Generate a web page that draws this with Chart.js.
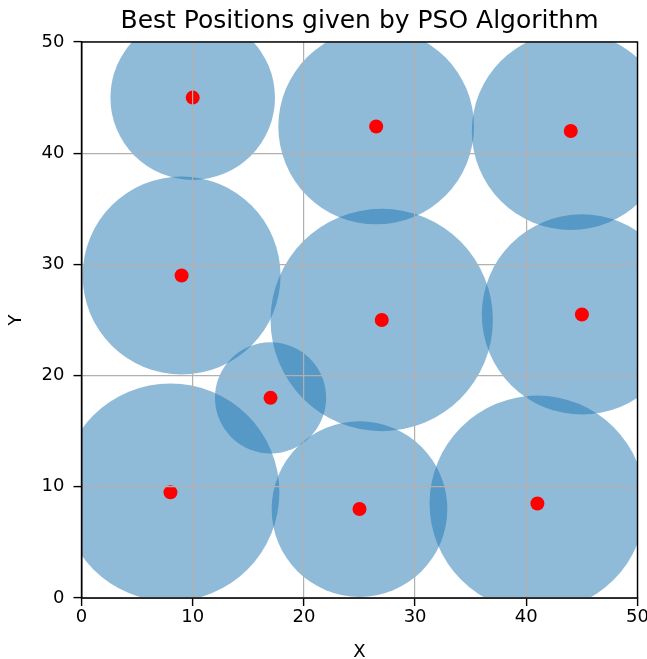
<!DOCTYPE html>
<html>
<head>
<meta charset="utf-8">
<title>Best Positions given by PSO Algorithm</title>
<script src="https://cdn.jsdelivr.net/npm/chart.js"></script>
<style>
  html, body { margin: 0; padding: 0; background: #fff; }
</style>
</head>
<body>
<canvas id="pso" width="647" height="659"></canvas>
<script>
// best positions found by the swarm, and the circle radius around each (data units)
const posX = [10, 26.5, 44, 9, 27, 45, 17, 8, 25, 41];
const posY = [45, 42.4, 42, 29, 25, 25.5, 18, 9.5, 8, 8.5];
const radii = [7.4, 8.8, 8.9, 8.9, 10, 9, 5, 9.8, 7.9, 9.7];
const axisTicks = [0, 10, 20, 30, 40, 50];

const FONT = "'DejaVu Sans', sans-serif";

const points = posX.map((x, i) => ({x: x, y: posY[i]}));
const circles = posX.map((x, i) => ({x: x, y: posY[i], size: radii[i]}));

// radius in data units -> pixels, through the x scale
const dataRadius = (ctx) => {
    const s = ctx.chart.scales.x;
    if (!s || !ctx.raw) return 0;
    return Math.abs(s.getPixelForValue(ctx.raw.size) - s.getPixelForValue(0));
};

const setTicks = (scale) => {
    scale.ticks = axisTicks.map(v => ({value: v}));
};

// matplotlib style box round the plot area
const frame = {
    id: 'frame',
    afterDraw(chart) {
        const {ctx, chartArea: a} = chart;
        ctx.save();
        ctx.strokeStyle = '#000';
        ctx.lineWidth = 1.4;
        ctx.strokeRect(a.left, a.top, a.right - a.left, a.bottom - a.top);
        ctx.restore();
    }
};

new Chart(document.getElementById('pso').getContext('2d'), {
    type: 'scatter',
    data: {
        datasets: [
            {
                label: 'best',
                data: points,
                backgroundColor: '#ff0000',
                borderWidth: 0,
                pointRadius: 7,
                clip: false
            },
            {
                label: 'area',
                data: circles,
                backgroundColor: 'rgba(31,119,180,0.5)',
                borderWidth: 0,
                pointRadius: dataRadius,
                clip: 0
            }
        ]
    },
    options: {
        responsive: false,
        animation: false,
        events: [],
        layout: { padding: {left: 0, right: 9.5, top: 0, bottom: 0} },
        plugins: {
            legend: { display: false },
            tooltip: { enabled: false },
            title: {
                display: true,
                text: 'Best Positions given by PSO Algorithm',
                color: '#000',
                fullSize: false,
                font: { family: FONT, size: 25, weight: 'normal' },
                padding: { top: 6, bottom: 6 }
            }
        },
        scales: {
            x: {
                type: 'linear',
                min: 0,
                max: 50,
                afterBuildTicks: setTicks,
                afterFit: (s) => { s.height = 61; s.paddingLeft = 0; s.paddingRight = 0; },
                ticks: { color: '#000', font: { family: FONT, size: 18 }, padding: 1, maxRotation: 0, z: 1 },
                grid: { z: 1, color: '#b0b0b0', lineWidth: 1.2, tickColor: '#000', tickLength: 8, tickWidth: 1.4 },
                border: { z: 1, color: '#000', width: 1.4 },
                title: { display: true, text: 'X', color: '#000', font: { family: FONT, size: 18 }, padding: { top: 0, bottom: -4 } }
            },
            y: {
                type: 'linear',
                min: 0,
                max: 50,
                afterBuildTicks: setTicks,
                afterFit: (s) => { s.width = 81.5; },
                ticks: { color: '#000', font: { family: FONT, size: 18 }, padding: 9, z: 1 },
                grid: { z: 1, color: '#b0b0b0', lineWidth: 1.2, tickColor: '#000', tickLength: 8, tickWidth: 1.4 },
                border: { z: 1, color: '#000', width: 1.4 },
                title: { display: true, text: 'Y', color: '#000', font: { family: FONT, size: 18 }, padding: { top: 6, bottom: 0 } }
            }
        }
    },
    plugins: [frame]
});
</script>
</body>
</html>
